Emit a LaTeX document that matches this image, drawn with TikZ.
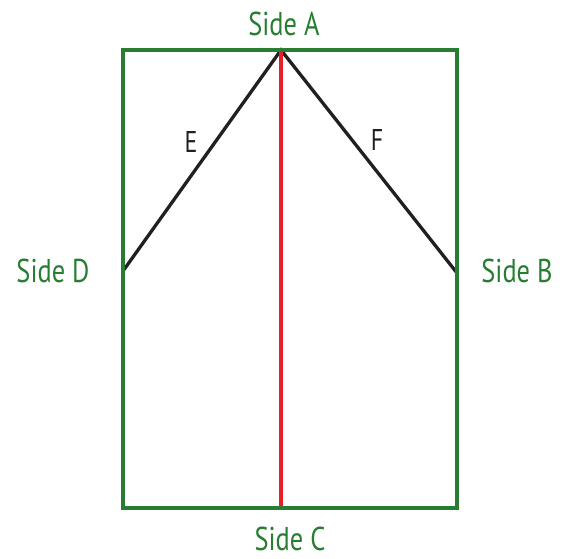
\documentclass[tikz,border=0pt]{standalone}
\usepackage{fontspec}
\setmainfont[FakeStretch=0.8]{PT Sans}
\usepackage{tikz}
\usetikzlibrary{positioning,calc}

\definecolor{sidegreen}{RGB}{40,125,50}
\definecolor{cutred}{RGB}{232,30,40}
\definecolor{foldblack}{RGB}{35,31,32}

\begin{document}
\begin{tikzpicture}[x=1pt, y=-1pt, line width=3.3pt]

        \tikzstyle{side} = [text=sidegreen, font=\fontsize{33}{36}\selectfont, anchor=base, inner sep=0pt]
        \tikzstyle{fold} = [text=foldblack, font=\fontsize{30}{34}\selectfont, anchor=base, inner sep=0pt]

        \useasboundingbox (0,0) rectangle (571,558);

        \coordinate (tl) at (123,50);
        \coordinate (br) at (457,508);
        \coordinate (apex) at (281,50);
        \coordinate (bot) at (281,508);
        \coordinate (left) at (123,271);
        \coordinate (right) at (457,273);

        \node [side] (sideA) at (284,35) {Side A};
        \node [side] (sideB) at (517,282) {Side B};
        \node [side] (sideC) at (290,550) {Side C};
        \node [side] (sideD) at (53,282) {Side D};

        \node [fold] (E) at (191,152) {E};
        \node [fold] (F) at (377,150) {F};

        % folds
        \draw [foldblack] (left) -- (apex) -- (right);
        \draw [cutred] (apex) -- (bot);

        \draw [sidegreen] (tl) rectangle (br);

    \end{tikzpicture}
\end{document}
